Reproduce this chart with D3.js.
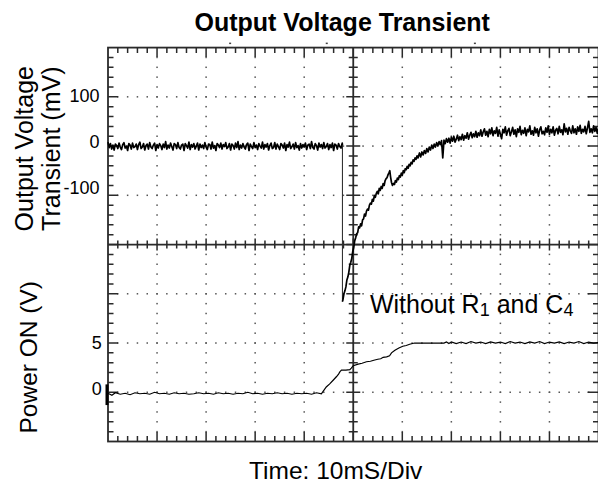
<!DOCTYPE html>
<html><head><meta charset="utf-8">
<script src="https://cdn.jsdelivr.net/npm/d3@7"></script>
<style>
html,body{margin:0;padding:0;background:#fff;}
svg{display:block;}
text{font-family:"Liberation Sans",Arial,Helvetica,sans-serif;fill:#000;}
</style>
</head><body>
<svg id="chart" width="598" height="485"></svg>
<script>
// ---------- data ----------
const titleText = "Output Voltage Transient";
const yTitleTop = ["Output Voltage", "Transient (mV)"];
const yTitleBottom = "Power ON (V)";
const xTitle = "Time: 10mS/Div";
const annotationParts = [["Without R", false], ["1", true], [" and C", false], ["4", true]];
const annotationAt = [53.4, 8.06];           // [ms, V]

const timeDomainMs = [0, 100];               // 10 ms/div x 10 div
const outputDomainMv = [-200, 200];          // upper half, 100 mV/div
const powerDomainV = [-5, 15];               // lower half, 5 V/div
const outputTickLabels = [100, 0, -100];
const powerTickLabels = [5, 0];
const groundMarkerV = [0.8, -1.3];
const topMarkersMs = [24.9, 44.6, 74.8];

// Output voltage trace, sampled every 0.25 ms in the quiet stretches (mV)
const sampleStepMs = 0.25;
const outputBeforeStartMs = 0;
const outputBeforeMv = [
 8,-3,5,-6,2,-8,4,1,-5,6,-2,-7,3,7,-4,0,
 -9,5,2,-6,6,-3,-1,4,-7,3,8,-5,-2,5,-8,1,
 4,-6,7,-2,-5,2,6,-9,3,-4,5,1,-7,4,-3,9,
 -6,2,-4,6,-1,-8,5,3,-5,7,-3,-6,2,4,-9,5,
 1,-4,8,-7,3,-2,5,-6,0,6,-8,4,-3,2,-5,7,
 -2,-7,4,3,-6,8,-4,1,-9,5,2,-3,6,-6,3,-1,
 7,-5,-2,5,-8,4,1,-6,6,-3,9,-7,2,-4,5,-2,
 -6,3,6,-9,4,-1,-5,7,-3,2,-7,5,0,-4,8,-6,
 3,-2,5,-8,1,6,-5,-3,7,-6,4,-1,-7,5,2,-4,
 6,-9,3,-2,8,-5,-1,4,-6,7,-3,1,-8,5,-4,3,
 -2,6,-7,2,4,-5,9,-3,-6,5,1,-8,6,-2,3,-5,
 7,-4,-1,5,-7,3,-3,6,-9,4,2,-6,5,-1,-4,6
];
// the step: [ms, mV] from, to
const outputDrop = [[47.8, 2], [47.8, -316]];
// the recovery [ms, mV]
const outputTransient = [
[47.8,-316],[47.9,-312],[48.1,-300],[48.3,-294],[48.5,-286],[48.7,-272],[48.9,-266],
[49.1,-256],[49.3,-242],[49.5,-236],[49.7,-228],[49.9,-214],[50.1,-206],[50.3,-192],[50.5,-186],
[50.7,-178],[50.9,-176],[51.1,-164],[51.3,-166],[51.5,-158],[51.7,-162],[51.9,-150],[52.1,-148],
[52.3,-138],[52.5,-142],[52.7,-132],[52.9,-128],[53.1,-130],[53.3,-120],[53.5,-116],[53.7,-118],
[53.9,-108],[54.1,-112],[54.3,-100],[54.5,-104],[54.7,-96],[54.9,-92],[55.1,-97],[55.3,-86],
[55.5,-90],[55.7,-82],[55.9,-86],[56.1,-76],[56.3,-80],[56.5,-70],[56.7,-66],[56.9,-64],
[57.1,-58],[57.3,-54],[57.45,-50],[57.6,-62],[57.8,-74],[58,-80],[58.2,-76],[58.4,-78],
[58.6,-70],[58.8,-73],[59,-65],[59.2,-68],[59.4,-60],[59.6,-63],[59.8,-55],[60,-59],
[60.2,-50],[60.4,-54],[60.6,-46],[60.8,-48],[61,-41],[61.2,-45],[61.4,-37],[61.6,-40],
[61.8,-33],[62,-36],[62.2,-28],[62.4,-31],[62.6,-24],[62.8,-27],[63,-20],[63.2,-24]
];
const outputAfterStartMs = 63.5;
const outputAfterMv = [
 -14,-22,-12,-18,-9,-15,-5,-12,-2,-8,2,-5,4,-2,7,0,9,3,11,-24,12,5,15,8,16,
 6,18,10,20,8,14,22,11,19,13,24,12,21,16,27,14,22,28,17,25,19,30,18,27,21,33,
 20,29,35,22,30,19,34,25,37,21,31,26,38,20,33,24,15,34,27,39,22,31,36,21,
 29,38,24,33,19,35,28,40,23,32,26,37,21,34,29,41,24,31,22,38,27,35,20,33,
 39,25,30,23,37,28,41,24,34,27,39,22,32,36,25,40,28,33,23,45,29,36,24,38,
 31,26,41,27,35,24,39,30,42,26,34,29,40,25,37,50,28,35,27,41,30,38,26,36
];

// Power ON trace [ms, V]
const powerTrace = [
[0,-0.1],[0.8,-0.3],[1.5,-0.05],[2.5,-0.2],[3.5,-0.1],[4.5,-0.25],[5.5,-0.05],[6.5,-0.15],
[7.5,-0.1],[8.5,-0.2],[9.5,0],[10.5,-0.15],[11.5,-0.1],[12.5,-0.2],[13.5,-0.05],[14.5,-0.15],
[15.5,-0.1],[16.5,-0.2],[17.5,-0.15],[18.5,-0.05],[19.5,-0.15],[20.5,-0.1],[21.5,-0.2],[22.5,-0.05],
[23.5,-0.15],[24.5,-0.1],[25.5,-0.2],[26.5,-0.1],[27.5,-0.15],[28.5,0],[29.5,-0.15],[30.5,-0.1],
[31.5,-0.2],[32.5,-0.1],[33.5,-0.15],[34.5,-0.05],[35.5,-0.15],[36.5,-0.1],[37.5,-0.2],[38.5,-0.1],
[39.5,-0.15],[40.5,-0.1],[41.5,-0.2],[42.5,-0.05],[43.5,-0.15],
[44,0.2],[44.5,0.54],[45.2,0.85],[45.9,1.22],[46.6,1.6],[47,1.85],[47.3,2.1],[47.6,2.25],
[48.5,2.25],[49.3,2.3],[49.6,2.45],[50,2.7],[51,2.85],[51.8,2.95],[52.7,3.1],[53.5,3.15],
[54.2,3.25],[55,3.35],[55.6,3.4],[56.1,3.55],[56.8,3.6],[57.4,3.7],[57.8,4],[58.5,4.27],
[59.3,4.5],[60.1,4.67],[60.8,4.75],[61.5,4.88],[62.5,5],[68.5,5],
[69,5.1],[69.5,4.95],[70,5.12],[71,4.95],[72,5.1],[73,4.95],[74,5.15],[75,5],[76,5.1],
[77,4.95],[78,5.12],[79,5],[80,5.1],[81,4.95],[82,5.15],[83,5],[84,5.1],[85,4.95],[86,5.12],
[87,5],[88,5.15],[89,4.95],[90,5.1],[91,5],[92,5.12],[93,4.95],[94,5.1],[95,5],[96,5.15],
[97,4.95],[98,5.1],[99,5],[100,5.05]
];

// ---------- assemble output trace pieces ----------
const outputBefore = [...outputBeforeMv.map((v, i) => [outputBeforeStartMs + i * sampleStepMs, v]), outputDrop[0]];
const outputAfter = [
  ...outputTransient,
  ...outputAfterMv.map((v, i) => [outputAfterStartMs + i * sampleStepMs, v])
];

// ---------- layout ----------
const L = 108, R = 598.5, T = 47.6, B = 441.5, MID = (T + B) / 2;
const svg = d3.select("#chart");

const x = d3.scaleLinear().domain(timeDomainMs).range([L, R]);
const yOut = d3.scaleLinear().domain(outputDomainMv).range([MID, T]);
const yPow = d3.scaleLinear().domain(powerDomainV).range([B, MID]);
const gx = d3.scaleLinear().domain([0, 10]).range([L, R]);   // divisions
const gy = d3.scaleLinear().domain([0, 8]).range([T, B]);
const labelOut = d3.scaleLinear().domain([100, -100]).range([95.3, 188]);
const labelPow = d3.scaleLinear().domain([5, 0]).range([342.8, 388.7]);

const frameCol = "#2a2a2a";

// dotted grid
const dots = [];
for (let i = 1; i < 10; i++) {
  if (i === 5) continue;
  for (let j = 1; j < 40; j++) dots.push([gx(i), gy(j / 5)]);
}
for (let k = 1; k < 8; k++) {
  if (k === 4) continue;
  for (let j = 1; j < 50; j++) dots.push([gx(j / 5), gy(k)]);
}
svg.append("g").selectAll("rect").data(dots).join("rect")
  .attr("x", d => d[0] - 0.75).attr("y", d => d[1] - 0.75)
  .attr("width", 1.5).attr("height", 1.5).attr("fill", "#555");

// frame + centre cross
const g = svg.append("g").attr("stroke", frameCol).attr("fill", "none");
g.append("rect").attr("x", L).attr("y", T).attr("width", R - L).attr("height", B - T).attr("stroke-width", 1.8);
g.append("line").attr("x1", L).attr("x2", R).attr("y1", MID).attr("y2", MID).attr("stroke-width", 1.8);
g.append("line").attr("x1", gx(5)).attr("x2", gx(5)).attr("y1", T).attr("y2", B).attr("stroke-width", 1.8);

const tickPath = [];
for (let j = 1; j < 50; j++) {
  const xx = gx(j / 5), maj = j % 5 === 0;
  tickPath.push(`M${xx},${T}v${maj ? 9.5 : 5.5}`);
  tickPath.push(`M${xx},${B}v${maj ? -9.5 : -5.5}`);
  const h = maj ? 6 : 4;
  tickPath.push(`M${xx},${MID - h}v${2 * h}`);
}
for (let j = 1; j < 40; j++) {
  const yy = gy(j / 5), maj = j % 5 === 0;
  tickPath.push(`M${L},${yy}h${maj ? 10 : 5.5}`);
  tickPath.push(`M${R},${yy}h${maj ? -11 : -5.5}`);
  const h = maj ? 7 : 4.5;
  tickPath.push(`M${gx(5) - h},${yy}h${2 * h}`);
}
g.append("path").attr("d", tickPath.join("")).attr("stroke-width", 1.5);

// small markers above the frame
svg.append("g").selectAll("rect").data(topMarkersMs).join("rect")
  .attr("x", d => x(d) - 1).attr("y", T - 5).attr("width", 2).attr("height", 1.5).attr("fill", "#444");

// traces
const outLine = d3.line().x(d => x(d[0])).y(d => yOut(d[1]));
const powLine = d3.line().x(d => x(d[0])).y(d => yPow(d[1]));
svg.append("path").attr("d", outLine(outputDrop)).attr("fill", "none")
  .attr("stroke", "#333").attr("stroke-width", 1.1);
[outputBefore, outputAfter].forEach(seg => {
  svg.append("path").attr("d", outLine(seg)).attr("fill", "none")
    .attr("stroke", "#000").attr("stroke-width", 1.7).attr("stroke-linejoin", "round");
});
svg.append("path").attr("d", powLine(powerTrace)).attr("fill", "none")
  .attr("stroke", "#000").attr("stroke-width", 1.2);

// ground marker
svg.append("rect").attr("x", L - 2.5).attr("width", 3)
  .attr("y", yPow(groundMarkerV[0])).attr("height", yPow(groundMarkerV[1]) - yPow(groundMarkerV[0]))
  .attr("fill", "#000");

// tick labels
svg.append("g").selectAll("text").data(outputTickLabels).join("text")
  .attr("x", 99.5).attr("y", d => labelOut(d)).attr("dy", "0.36em")
  .attr("text-anchor", "end").attr("font-size", 18).text(d => d);
svg.append("g").selectAll("text").data(powerTickLabels).join("text")
  .attr("x", 101.7).attr("y", d => labelPow(d)).attr("dy", "0.36em")
  .attr("text-anchor", "end").attr("font-size", 18).text(d => d);

// titles
svg.append("text").attr("x", 342.2).attr("y", 30.5).attr("text-anchor", "middle")
  .attr("font-size", 25).attr("font-weight", "bold").text(titleText);
svg.append("text").attr("x", 335.7).attr("y", 478.5).attr("text-anchor", "middle")
  .attr("font-size", 24.5).text(xTitle);
yTitleTop.forEach((t, i) => {
  svg.append("text").attr("transform", `translate(${i === 0 ? 32.5 : 59.5},148.7) rotate(-90)`)
    .attr("text-anchor", "middle").attr("font-size", 25).text(t);
});
svg.append("text").attr("transform", `translate(36.5,357.3) rotate(-90)`)
  .attr("text-anchor", "middle").attr("font-size", 24.5).text(yTitleBottom);

// annotation with subscripts
const ann = svg.append("text").attr("x", x(annotationAt[0])).attr("y", yPow(annotationAt[1]))
  .attr("font-size", 25);
annotationParts.forEach(([s, sub], i) => {
  const prevSub = i > 0 && annotationParts[i - 1][1];
  ann.append("tspan").attr("font-size", sub ? 18 : 25)
    .attr("dy", sub ? (prevSub ? 0 : 3.5) : (prevSub ? -3.5 : 0))
    .text(s);
});
</script>
</body></html>
